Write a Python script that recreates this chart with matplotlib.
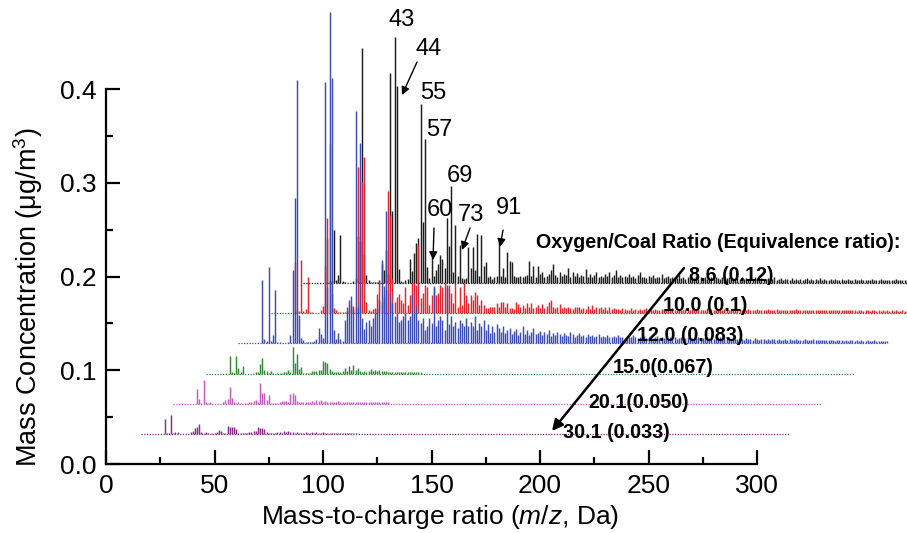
import numpy as np
import matplotlib
matplotlib.use("Agg")
import matplotlib.pyplot as plt
from matplotlib.ticker import MultipleLocator

plt.rcParams['font.family'] = ['Liberation Sans', 'DejaVu Sans']
plt.rcParams['mathtext.fontset'] = 'custom'
plt.rcParams['mathtext.rm'] = 'Liberation Sans'
plt.rcParams['mathtext.it'] = 'Liberation Sans:italic'

# mass spectra, m/z = 1, 2, 3 ... ; values in 0.001 ug/m3
black_86 = [
    0, 0, 0, 0, 0, 0, 0, 0, 0, 0, 0, 47, 3, 2, 57, 3, 9, 51, 2, 1,
    0, 0, 0, 2, 5, 50, 45, 251, 30, 9, 3, 1, 1, 1, 1, 3, 20, 14, 35, 10,
    224, 77, 263, 210, 15, 2, 1, 3, 4, 26, 13, 32, 43, 48, 191, 65, 154, 17, 5, 28,
    8, 14, 20, 30, 26, 16, 69, 40, 104, 12, 62, 8, 41, 5, 4, 5, 38, 16, 38, 14,
    52, 8, 51, 18, 22, 6, 8, 4, 6, 8, 44, 8, 16, 6, 33, 24, 22, 8, 6, 7,
    8, 7, 8, 9, 24, 8, 18, 7, 18, 10, 12, 6, 8, 10, 14, 20, 9, 7, 12, 8,
    10, 9, 16, 7, 12, 8, 11, 6, 9, 8, 15, 6, 10, 7, 9, 12, 6, 8, 7, 10,
    8, 12, 6, 9, 14, 7, 9, 6, 8, 7, 10, 6, 8, 5, 9, 12, 6, 7, 5, 8,
    6, 9, 5, 7, 6, 10, 5, 6, 8, 5, 7, 6, 5, 9, 5, 6, 4, 7, 5, 6,
    5, 8, 4, 6, 5, 7, 4, 5, 6, 4, 6, 5, 4, 7, 4, 5, 6, 4, 5, 4,
    5, 4, 6, 4, 5, 3, 5, 4, 6, 4, 4, 5, 3, 4, 5, 3, 4, 6, 3, 4,
    5, 3, 4, 4, 3, 5, 3, 4, 3, 4, 3, 4, 5, 3, 4, 3, 4, 3, 5, 3,
    4, 3, 3, 4, 3, 4, 3, 3, 4, 3, 3, 4, 3, 3, 4, 3, 3, 4, 3, 3,
    3, 3, 4, 3, 3, 3, 4, 3, 3, 3, 3, 3, 3, 4, 3, 3, 3, 3, 3, 3,
    3, 2, 3, 3, 2, 3, 3, 2, 3, 3, 2, 3, 3, 2, 3, 3, 2, 3, 3, 2,
]
red_100 = [
    0, 0, 0, 0, 0, 0, 0, 0, 0, 0, 0, 55, 3, 2, 57, 2, 4, 38, 1, 1,
    0, 0, 0, 3, 8, 50, 101, 180, 20, 5, 3, 1, 1, 1, 1, 2, 3, 9, 8, 6,
    156, 30, 140, 166, 12, 3, 2, 4, 5, 20, 34, 12, 18, 25, 130, 105, 36, 12, 17, 20,
    14, 11, 28, 9, 19, 32, 32, 30, 74, 16, 21, 30, 28, 9, 19, 27, 19, 21, 30, 28,
    32, 27, 30, 21, 11, 32, 7, 28, 9, 32, 19, 11, 19, 14, 23, 19, 9, 14, 9, 5,
    5, 7, 7, 7, 11, 7, 12, 12, 7, 11, 5, 5, 4, 12, 10, 7, 9, 5, 11, 6,
    11, 5, 7, 9, 5, 10, 5, 8, 12, 14, 7, 5, 7, 10, 5, 7, 5, 7, 5, 4,
    7, 6, 7, 4, 5, 4, 8, 4, 9, 4, 6, 5, 7, 4, 7, 3, 6, 4, 5, 4,
    4, 3, 5, 4, 3, 3, 5, 3, 4, 3, 4, 3, 4, 5, 3, 4, 3, 4, 3, 3,
    4, 3, 3, 4, 3, 5, 3, 3, 4, 3, 3, 4, 3, 3, 4, 3, 3, 4, 3, 3,
    3, 5, 3, 4, 3, 3, 4, 3, 3, 4, 3, 3, 4, 3, 3, 3, 4, 3, 3, 3,
    4, 3, 3, 3, 4, 3, 3, 3, 3, 4, 3, 3, 3, 4, 3, 3, 3, 3, 3, 3,
    3, 3, 4, 3, 3, 3, 3, 3, 3, 3, 3, 3, 3, 3, 3, 3, 3, 3, 3, 3,
    3, 3, 3, 3, 3, 3, 3, 3, 3, 3, 2, 3, 3, 2, 3, 3, 2, 3, 3, 2,
    3, 2, 3, 2, 3, 2, 3, 2, 3, 2, 2, 3, 2, 2, 3, 2, 2, 3, 2, 2,
]
blue_120 = [
    0, 0, 0, 0, 0, 0, 0, 0, 0, 0, 0, 67, 4, 2, 81, 2, 9, 57, 1, 1,
    0, 0, 0, 1, 9, 78, 155, 281, 30, 5, 3, 1, 1, 1, 1, 2, 4, 16, 10, 5,
    279, 60, 353, 283, 14, 4, 11, 4, 2, 25, 39, 46, 50, 36, 248, 39, 213, 27, 15, 23,
    25, 18, 27, 32, 36, 46, 89, 61, 141, 32, 53, 43, 29, 32, 23, 25, 29, 32, 25, 29,
    52, 32, 41, 25, 21, 27, 14, 18, 27, 21, 61, 18, 25, 29, 25, 14, 62, 20, 29, 18,
    23, 16, 25, 21, 18, 27, 18, 23, 18, 29, 14, 21, 18, 25, 14, 20, 11, 18, 12, 20,
    16, 12, 18, 11, 14, 16, 10, 13, 15, 9, 12, 18, 10, 14, 9, 12, 16, 10, 11, 13,
    9, 12, 10, 14, 8, 11, 9, 12, 10, 8, 11, 9, 8, 12, 10, 7, 9, 11, 8, 9,
    7, 10, 8, 9, 6, 8, 10, 7, 8, 6, 9, 7, 6, 8, 7, 9, 6, 7, 5, 8,
    6, 7, 9, 6, 5, 7, 6, 8, 5, 6, 7, 5, 6, 8, 5, 6, 5, 7, 4, 6,
    5, 6, 4, 5, 7, 4, 5, 6, 4, 5, 4, 5, 6, 4, 5, 7, 6, 5, 6, 4,
    7, 5, 6, 4, 5, 4, 6, 4, 5, 4, 4, 5, 4, 3, 5, 4, 4, 3, 5, 4,
    3, 4, 4, 3, 4, 3, 4, 4, 3, 4, 3, 3, 4, 3, 4, 3, 3, 4, 3, 3,
    3, 4, 3, 3, 3, 4, 3, 3, 3, 3, 3, 3, 3, 3, 3, 2, 3, 3, 3, 2,
    3, 2, 3, 3, 2, 3, 2, 3, 2, 2, 3, 2, 2, 3, 2, 2, 2, 2, 2, 2,
]
green_150 = [
    0, 0, 0, 0, 0, 0, 0, 0, 0, 0, 0, 19, 2, 1, 19, 6, 2, 8, 0, 0,
    0, 0, 0, 2, 2, 10, 17, 4, 3, 1, 3, 1, 0, 1, 1, 1, 2, 2, 4, 2,
    28, 11, 21, 5, 7, 1, 1, 1, 1, 3, 3, 3, 4, 4, 13, 12, 11, 5, 3, 2,
    2, 2, 2, 3, 6, 3, 8, 4, 9, 4, 6, 3, 2, 3, 2, 3, 5, 3, 4, 3,
    4, 3, 3, 3, 2, 2, 2, 2, 2, 2, 2, 2, 2, 2, 2, 2, 2, 2, 2, 2,
]
pink_201 = [
    0, 0, 0, 0, 0, 0, 0, 0, 0, 0, 0, 16, 5, 1, 25, 2, 1, 2, 0, 0,
    0, 0, 0, 2, 4, 5, 18, 6, 2, 1, 2, 1, 0, 1, 1, 2, 2, 3, 4, 2,
    22, 11, 11, 4, 9, 1, 1, 1, 1, 2, 3, 3, 3, 2, 10, 11, 9, 3, 2, 2,
    2, 2, 2, 2, 3, 2, 4, 3, 4, 2, 3, 2, 2, 2, 2, 2, 3, 2, 2, 2,
    2, 2, 2, 2, 2, 2, 2, 2, 2, 2, 2, 2, 2, 2, 2, 2, 2, 2, 2, 2,
]
purple_301 = [
    0, 0, 0, 0, 0, 0, 0, 0, 0, 0, 0, 16, 1, 1, 20, 1, 2, 2, 0, 0,
    0, 0, 0, 2, 3, 6, 8, 11, 2, 1, 2, 1, 0, 1, 1, 2, 4, 3, 1, 1,
    9, 8, 8, 8, 5, 1, 1, 1, 1, 1, 2, 2, 3, 3, 7, 6, 6, 5, 2, 1,
    1, 1, 1, 2, 2, 1, 3, 2, 3, 2, 2, 1, 2, 1, 1, 1, 2, 1, 1, 2,
    1, 2, 1, 1, 2, 1, 1, 1, 1, 1, 1, 1, 1, 1, 1, 1, 1, 1, 1, 1,
]
spectra = [black_86, red_100, blue_120, green_150, pink_201, purple_301]
series_labels = ["8.6 (0.12)", "10.0 (0.1)", "12.0 (0.083)", "15.0(0.067)",
                 "20.1(0.050)", "30.1 (0.033)"]
x_shift = [90, 75, 60, 45, 30, 15]
y_shift = [0.193, 0.161, 0.129, 0.0965, 0.0645, 0.032]
mz_max = 300
colors = ["#1e1e1e", "#e3262b", "#3c4db5", "#2f8a34", "#c957c4", "#8c2b8a"]

peak_labels = ["43", "44", "55", "57", "60", "69", "73", "91"]

fig = plt.figure(figsize=(9.07, 5.33), dpi=100)
ax = fig.add_axes([106 / 907, 69 / 533, 651 / 907, 464 / 533])

for vals, dx, base, c in zip(spectra, x_shift, y_shift, colors):
    v = np.array(vals) * 0.001
    mz = np.arange(1, len(v) + 1)
    keep = v > 0
    ax.vlines(mz[keep] + dx, base, base + v[keep], color=c, lw=1.05, clip_on=False)
    ax.plot([dx + 1, dx + mz_max], [base, base], color=c, lw=0.9,
            ls=(0, (1, 1.2)), clip_on=False)

ax.set_xlim(0, 300)
ax.set_ylim(0, 0.495)
ax.spines['top'].set_visible(False)
ax.spines['right'].set_visible(False)
ax.spines['left'].set_bounds(0, 0.4)
ax.spines['left'].set_linewidth(1.6)
ax.spines['bottom'].set_linewidth(1.6)
ax.set_xticks(range(0, 301, 50))
ax.xaxis.set_minor_locator(MultipleLocator(25))
ax.set_yticks([0, 0.1, 0.2, 0.3, 0.4])
ax.set_yticklabels(["0.0", "0.1", "0.2", "0.3", "0.4"])
ax.set_yticks([0.05, 0.15, 0.25, 0.35], minor=True)
ax.tick_params(which='major', direction='in', length=10, width=1.6,
               labelsize=19, pad=7)
ax.tick_params(which='minor', direction='in', length=5, width=1.6)

ax.set_xlabel("Mass-to-charge ratio ($\\it{m/z}$, Da)", fontsize=19)
ax.xaxis.set_label_coords(0.513, -0.115)
ax.xaxis.label.set_verticalalignment('center')
ax.set_ylabel("Mass Concentration (\u03bcg/m$^3$)", fontsize=19.5)
ax.yaxis.set_label_coords(-0.12, 0.36)
ax.yaxis.label.set_verticalalignment('center')

# peak labels
px = lambda x: (x - 106) / 2.17
py = lambda y: (464 - y) / 937.5
label_pos = [(402, 20), (429, 49), (433, 93), (439, 130), (440, 210),
             (460, 176), (471, 215), (509, 208)]
for t, (x, y) in zip(peak_labels, label_pos):
    ax.text(px(x), py(y), t, fontsize=17, ha='center', va='center')

arrows = [((417, 62), (402, 95)), ((434, 228), (433, 260)),
          ((470, 228), (462, 250)), ((503, 230), (500, 247))]
for (x0, y0), (x1, y1) in arrows:
    ax.annotate("", xy=(px(x1), py(y1)), xytext=(px(x0), py(y0)),
                arrowprops=dict(arrowstyle='-|>', color='black', lw=1.0,
                                mutation_scale=12, shrinkA=0, shrinkB=0))

ax.text(px(536), py(242), "Oxygen/Coal Ratio (Equivalence ratio):",
        fontsize=14.2, fontweight='bold', ha='left', va='center')
label_xy = [(689, 275), (663, 305), (637, 335), (613, 367), (588, 402), (563, 432)]
for t, (x, y) in zip(series_labels, label_xy):
    ax.text(px(x), py(y), t, fontsize=14.2, fontweight='bold', ha='left', va='center')

ax.annotate("", xy=(px(552), py(431)), xytext=(px(684), py(268)),
            arrowprops=dict(arrowstyle='-|>', color='black', lw=1.8,
                            mutation_scale=16, shrinkA=0, shrinkB=0))

fig.savefig("out.png", dpi=100)
